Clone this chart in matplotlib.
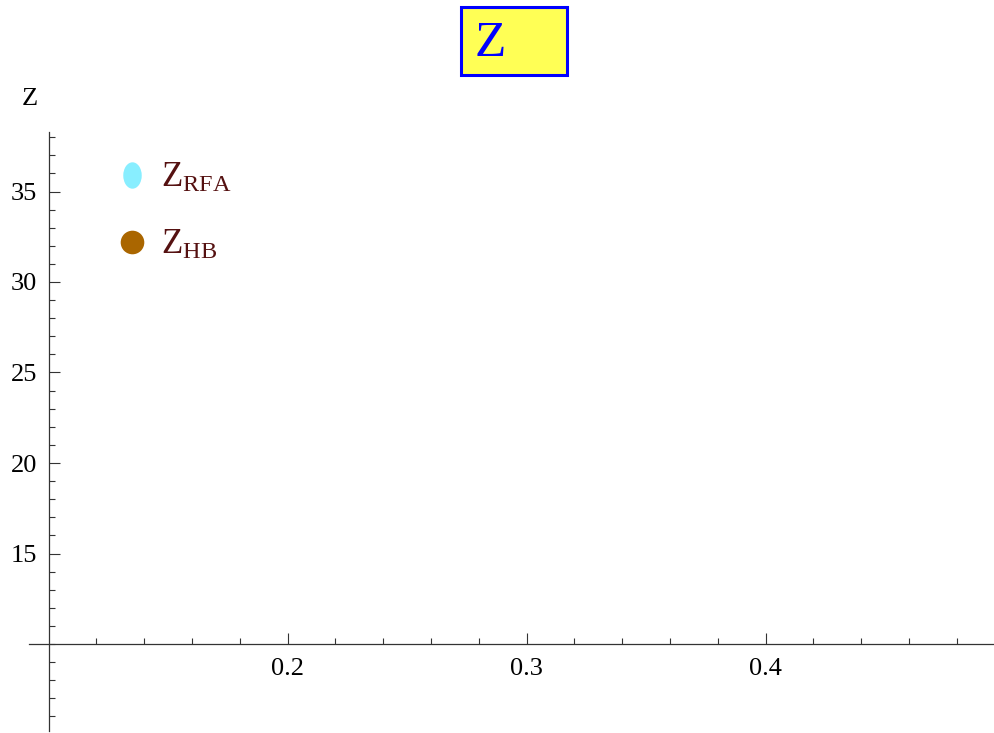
import numpy as np
import matplotlib
matplotlib.use("Agg")
import matplotlib.pyplot as plt
from matplotlib.lines import Line2D
from matplotlib.patches import Rectangle
from matplotlib.path import Path
from matplotlib.transforms import Affine2D

plt.rcParams['font.family'] = ['Liberation Serif', 'DejaVu Serif']
plt.rcParams['mathtext.fontset'] = 'custom'
plt.rcParams['mathtext.rm'] = 'Liberation Serif'
plt.rcParams['mathtext.it'] = 'Liberation Serif:italic'

# data
series_names = [r'$\mathrm{Z}_{\mathrm{RFA}}$', r'$\mathrm{Z}_{\mathrm{HB}}$']
series_colors = ['#88EEFF', '#AA6600']
x_rfa = []   # nothing falls in the visible range
y_rfa = []
x_hb = []
y_hb = []
x_major = [0.2, 0.3, 0.4]
x_minor = np.arange(0.12, 0.49, 0.02)
y_major = [15, 20, 25, 30, 35]
y_minor = np.arange(6, 39, 1)

W, H = 994, 733
fig = plt.figure(figsize=(W / 100, H / 100), dpi=100)
ax = fig.add_axes([0, 0, 1, 1])
ax.patch.set_alpha(0)

# axes origin at (0.1, 10), pixel (48.5, 644 from top)
px_x = 2390.0
px_y = 18.1
ax.set_xlim(0.1 - 48.5 / px_x, 0.1 + (W - 48.5) / px_x)
ax.set_ylim(10 - (H - 644) / px_y, 10 + 644 / px_y)

ax.plot(x_rfa, y_rfa, 'o', color=series_colors[0])
ax.plot(x_hb, y_hb, 'o', color=series_colors[1])

for s in ['top', 'right']:
    ax.spines[s].set_visible(False)
ax.spines['left'].set_position(('data', 0.1))
ax.spines['bottom'].set_position(('data', 10))
ax.spines['left'].set_bounds(5.2, 38.3)
ax.spines['bottom'].set_bounds(0.0918, 0.4952)
for s in ['left', 'bottom']:
    ax.spines[s].set_linewidth(0.9)
    ax.spines[s].set_color('#333333')

ax.set_xticks(x_major)
ax.set_xticks(x_minor, minor=True)
ax.set_yticks(y_major)
ax.set_yticks(y_minor, minor=True)
ax.set_xticklabels([f'{v:.1f}' for v in x_major])
ax.set_yticklabels([str(v) for v in y_major])
ax.tick_params(which='both', direction='in', width=0.8, color='#333333',
               labelsize=19)
ax.tick_params(which='major', length=8)
ax.tick_params(which='minor', length=4.5)
ax.tick_params(axis='x', pad=10)
ax.tick_params(axis='y', pad=8)

# axis label
fig.text(30 / W, 1 - 99 / H, 'Z', fontsize=19, ha='center', va='center')

# framed title
fig.patches.append(Rectangle((461 / W, 1 - 75 / H), 106 / W, 68 / H,
                             transform=fig.transFigure, facecolor='#FFFF55',
                             edgecolor='#0000FF', linewidth=2.2))
fig.text(475 / W, 1 - 56 / H, 'Z', fontsize=37, color='#0000FF',
         ha='left', va='baseline')

# legend
ellipse = Path.unit_circle().transformed(Affine2D().scale(0.7, 1.0))
handles = [
    Line2D([], [], linestyle='none', marker=ellipse, markersize=19,
           markerfacecolor=series_colors[0], markeredgecolor='none'),
    Line2D([], [], linestyle='none', marker='o', markersize=17,
           markerfacecolor=series_colors[1], markeredgecolor='none'),
]
leg = ax.legend(handles, series_names, loc='upper left',
                bbox_to_anchor=(118 / W, 1 - 162 / H),
                bbox_transform=fig.transFigure, frameon=False,
                fontsize=25, labelspacing=0.98, handlelength=0.8,
                handletextpad=0.45, borderpad=0, borderaxespad=0)
for t in leg.get_texts():
    t.set_color('#551111')

fig.savefig('out.png', dpi=100)
